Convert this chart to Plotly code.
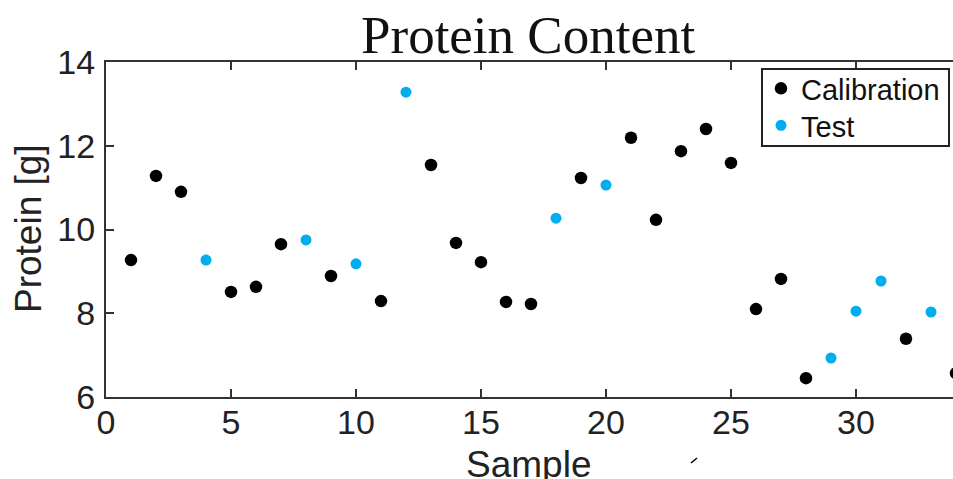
import plotly.graph_objects as go

calib_x = [1, 2, 3, 5, 6, 7, 9, 11, 13, 14, 15, 16, 17, 19, 21, 22, 23, 24, 25, 26, 27, 28, 32, 34]
calib_y = [9.27, 11.28, 10.9, 8.51, 8.63, 9.65, 8.89, 8.29, 11.54, 9.68, 9.22, 8.27, 8.22,
           11.23, 12.19, 10.23, 11.87, 12.4, 11.59, 8.1, 8.82, 6.45, 7.39, 6.57]
test_x = [4, 8, 10, 12, 18, 20, 29, 30, 31, 33]
test_y = [9.27, 9.75, 9.18, 13.28, 10.27, 11.06, 6.93, 8.05, 8.77, 8.03]

x_ticks = [0, 5, 10, 15, 20, 25, 30]
y_ticks = [6, 8, 10, 12, 14]

W, H = 953, 479
ml, mt, mr, mb = 106, 62, 0, 82
pw, ph = W - ml - mr, H - mt - mb
px_per_unit = 25.0
x_max = pw / px_per_unit


def px(x):
    return (x - ml) / pw


def py(y):
    return (H - y - mb) / ph


fig = go.Figure()
fig.add_trace(go.Scatter(x=calib_x, y=calib_y, mode="markers", name="Calibration",
                         legend="legend",
                         marker=dict(color="black", size=12.5, line=dict(width=0))))
fig.add_trace(go.Scatter(x=test_x, y=test_y, mode="markers", name="Test",
                         legend="legend2",
                         marker=dict(color="#00AEEF", size=11, line=dict(width=0))))

axis_font = dict(family="Liberation Sans, Arial", size=34, color="#222")
title_font = dict(family="Liberation Sans, Arial", size=37, color="#222")
leg_font = dict(family="Liberation Sans, Arial", size=29, color="#111")

fig.update_layout(
    width=W, height=H,
    margin=dict(l=ml, r=mr, t=mt, b=mb, autoexpand=False),
    paper_bgcolor="white", plot_bgcolor="white",
    showlegend=True,
    legend=dict(x=px(761), y=py(63), xanchor="left", yanchor="top",
                bgcolor="rgba(0,0,0,0)", borderwidth=0, font=leg_font, itemwidth=30),
    legend2=dict(x=px(761), y=py(100), xanchor="left", yanchor="top",
                 bgcolor="rgba(0,0,0,0)", borderwidth=0, font=leg_font, itemwidth=30),
    annotations=[
        dict(text="Protein Content", x=px(528), y=py(35), xref="paper", yref="paper",
             showarrow=False, font=dict(family="Liberation Serif, Times New Roman", size=53, color="#111"),
             xanchor="center", yanchor="middle"),
        dict(text="Sample", x=px(528), y=py(464), xref="paper", yref="paper",
             showarrow=False, font=title_font, xanchor="center", yanchor="middle"),
        dict(text="Protein [g]", x=px(28), y=py(229), xref="paper", yref="paper",
             showarrow=False, textangle=-90, font=title_font,
             xanchor="center", yanchor="middle"),
    ],
    shapes=[
        dict(type="rect", xref="paper", yref="paper", x0=px(762), y0=py(69), x1=px(949), y1=py(146),
             line=dict(color="#222", width=2), fillcolor="white", layer="above"),
        dict(type="line", xref="paper", yref="paper", x0=px(691), y0=py(463), x1=px(697), y1=py(458),
             line=dict(color="black", width=1.5)),
    ],
)

fig.update_xaxes(range=[0, x_max], tickvals=x_ticks, ticktext=[str(v) for v in x_ticks],
                 showgrid=False, zeroline=False, showline=True, linecolor="#333", linewidth=2,
                 mirror="ticks", ticks="inside", ticklen=8, tickwidth=1.5, tickcolor="#333",
                 tickfont=axis_font, ticklabelstandoff=-6, automargin=False)
fig.update_yaxes(range=[6, 14], tickvals=y_ticks, ticktext=[str(v) for v in y_ticks],
                 showgrid=False, zeroline=False, showline=True, linecolor="#333", linewidth=2,
                 ticks="inside", ticklen=8, tickwidth=1.5, tickcolor="#333",
                 tickfont=axis_font, ticklabelstandoff=2, automargin=False)

fig.write_html("out.html", config={"displayModeBar": False},
               post_script="document.body.style.margin='0';document.body.style.overflow='hidden';")
